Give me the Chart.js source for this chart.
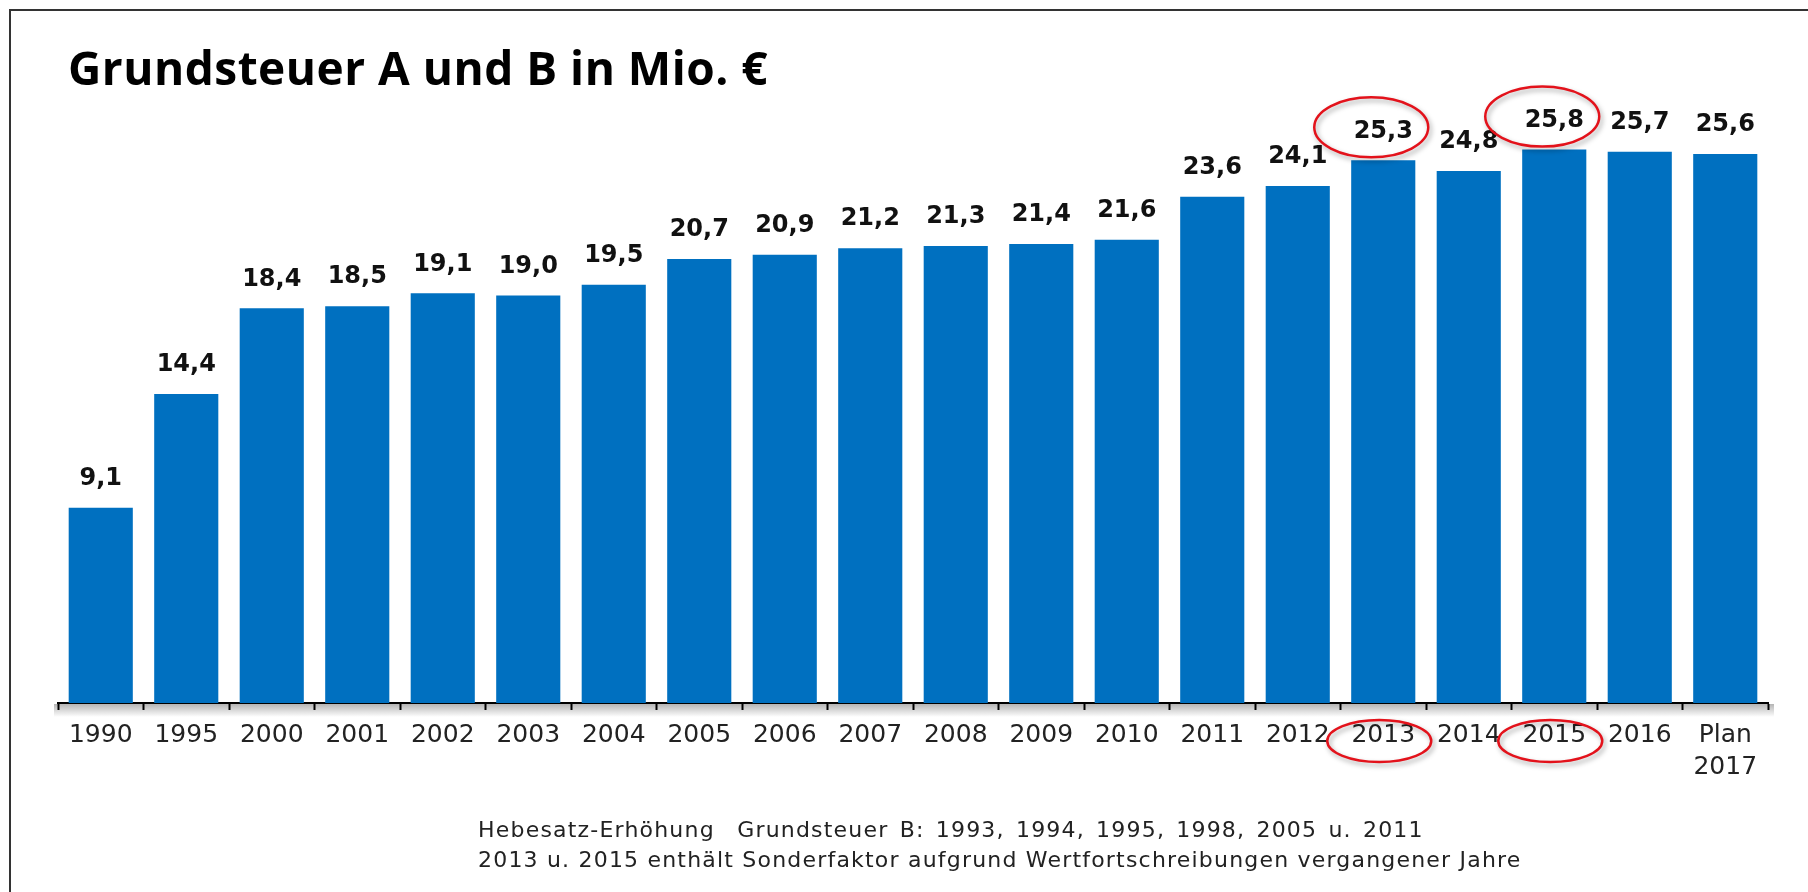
<!DOCTYPE html>
<html lang="de">
<head>
<meta charset="utf-8">
<title>Grundsteuer A und B in Mio. €</title>
<script src="https://cdn.jsdelivr.net/npm/chart.js@4.4.1/dist/chart.umd.min.js"></script>
<style>
  html, body { margin: 0; padding: 0; background: #fff; }
  #wrap { position: relative; width: 1808px; height: 892px; overflow: hidden; }
  #frame { position: absolute; left: 9px; top: 9px; width: 1820px; height: 900px;
           border-top: 2px solid #333; border-left: 2px solid #333; }
  #title { position: absolute; left: 68px; top: 36px; font: bold 46px "Open Sans"; letter-spacing: 0.5px;
           color: #000; white-space: nowrap; }
  #note { position: absolute; left: 478px; top: 815px; font: 22px "DejaVu Sans"; line-height: 30px;
          letter-spacing: 1.2px; color: #222; white-space: pre; }
  #note .l1 { word-spacing: 3px; }
  canvas { position: absolute; left: 0; top: 0; }
</style>
</head>
<body>
<div id="wrap">
  <div id="frame"></div>
  <canvas id="chart" width="1808" height="892"></canvas>
  <div id="title">Grundsteuer A und B in Mio. €</div>
  <div id="note"><span class="l1">Hebesatz-Erhöhung  Grundsteuer B: 1993, 1994, 1995, 1998, 2005 u. 2011</span>
2013 u. 2015 enthält Sonderfaktor aufgrund Wertfortschreibungen vergangener Jahre</div>
</div>
<script>
// Daten
const years = ['1990', '1995', '2000', '2001', '2002', '2003', '2004', '2005', '2006', '2007',
  '2008', '2009', '2010', '2011', '2012', '2013', '2014', '2015', '2016', ['Plan', '2017']];
const grundsteuer = [9.1, 14.4, 18.4, 18.5, 19.1, 19.0, 19.5, 20.7, 20.9, 21.2,
  21.3, 21.4, 21.6, 23.6, 24.1, 25.3, 24.8, 25.8, 25.7, 25.6];
// Jahre mit Sonderfaktor (rot markiert)
const markedYears = ['2013', '2015'];

const barColor = '#0070C0';

// Werte über den Balken
const valueLabels = {
  id: 'valueLabels',
  afterDatasetsDraw(chart) {
    const ctx = chart.ctx;
    const meta = chart.getDatasetMeta(0);
    ctx.save();
    ctx.font = 'bold 24px "DejaVu Sans"';
    ctx.fillStyle = '#111';
    ctx.textAlign = 'center';
    ctx.textBaseline = 'middle';
    meta.data.forEach((bar, i) => {
      const txt = grundsteuer[i].toFixed(1).replace('.', ',');
      ctx.fillText(txt, bar.x, bar.y - 29);
    });
    ctx.restore();
  }
};

// grauer Schatten unter der Achse
const axisShadow = {
  id: 'axisShadow',
  beforeDraw(chart) {
    const ctx = chart.ctx;
    const area = chart.chartArea;
    const g = ctx.createLinearGradient(0, area.bottom + 1, 0, area.bottom + 14);
    g.addColorStop(0, 'rgba(120,120,120,0.55)');
    g.addColorStop(1, 'rgba(120,120,120,0)');
    ctx.save();
    ctx.fillStyle = g;
    ctx.fillRect(area.left - 4, area.bottom + 1, area.right - area.left + 10, 13);
    ctx.restore();
  }
};

// rote Ellipsen um 2013 und 2015
const redMarks = {
  id: 'redMarks',
  afterDraw(chart) {
    const ctx = chart.ctx;
    const meta = chart.getDatasetMeta(0);
    const bottom = chart.chartArea.bottom;
    ctx.save();
    ctx.strokeStyle = '#e3121b';
    ctx.lineWidth = 2.5;
    ctx.shadowColor = 'rgba(0,0,0,0.35)';
    ctx.shadowBlur = 5;
    ctx.shadowOffsetX = 2;
    ctx.shadowOffsetY = 3;
    markedYears.forEach(y => {
      const i = years.indexOf(y);
      const bar = meta.data[i];
      ctx.beginPath();
      ctx.ellipse(bar.x - 12, bar.y - 33, 57, 30, 0, 0, Math.PI * 2);
      ctx.stroke();
      ctx.beginPath();
      ctx.ellipse(bar.x - 4, bottom + 38, 52, 21, 0, 0, Math.PI * 2);
      ctx.stroke();
    });
    ctx.restore();
  }
};

const chart = new Chart(document.getElementById('chart'), {
  type: 'bar',
  data: {
    labels: years,
    datasets: [{
      data: grundsteuer,
      backgroundColor: barColor,
      borderWidth: 0,
      barPercentage: 0.75,
      categoryPercentage: 1.0
    }]
  },
  options: {
    responsive: false,
    animation: false,
    devicePixelRatio: 1,
    layout: { padding: { left: 58, right: 40, top: 59.5, bottom: 0 } },
    plugins: {
      legend: { display: false },
      tooltip: { enabled: false }
    },
    scales: {
      x: {
        grid: { display: true, drawOnChartArea: false, drawTicks: true, tickLength: 7, tickWidth: 2, tickColor: '#000' },
        border: { display: true, color: '#000', width: 2 },
        ticks: {
          color: '#222',
          font: { family: 'DejaVu Sans', size: 25, lineHeight: 1.3 },
          padding: 9,
          maxRotation: 0,
          autoSkip: false
        },
        afterFit: s => { s.height = 189; }
      },
      y: { display: false, min: 0, max: 30 }
    }
  },
  plugins: [axisShadow, valueLabels, redMarks]
});
</script>
</body>
</html>
